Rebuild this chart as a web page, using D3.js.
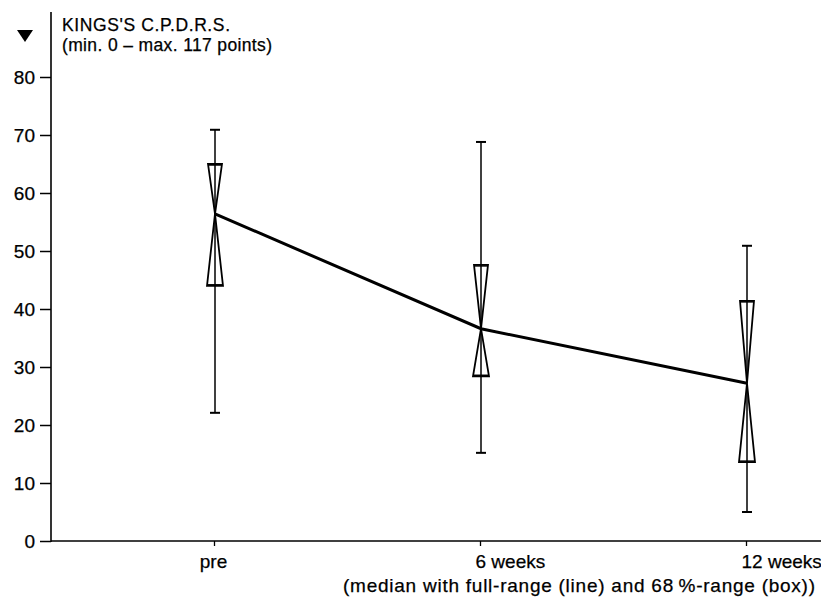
<!DOCTYPE html>
<html><head><meta charset="utf-8">
<script src="https://cdn.jsdelivr.net/npm/d3@7"></script>
<style>
body{margin:0;background:#fff;}
text{font-family:"Liberation Sans",Arial,Helvetica,sans-serif;fill:#000;stroke:#000;stroke-width:0.25px;}
</style></head>
<body><svg id="c" width="821" height="605"></svg>
<script>
const categories = ["pre", "6 weeks", "12 weeks"];
const medians = [56.4, 36.6, 27.2];
const boxLow = [44.0, 28.4, 13.6];
const boxHigh = [65.0, 47.6, 41.4];
const rangeLow = [22.1, 15.2, 5.0];
const rangeHigh = [70.9, 68.8, 50.9];
const yTicks = [0, 10, 20, 30, 40, 50, 60, 70, 80];
const titleLines = ["KINGS'S C.P.D.R.S.", "(min. 0 \u2013 max. 117 points)"];
const caption = "(median with full-range (line) and 68\u2009%-range (box))";

const svg = d3.select("#c");
const y = d3.scaleLinear().domain([0, 80]).range([541, 77]);
const x = d3.scalePoint().domain(categories).range([214, 746]);
const fs = 18.5;

// y axis
const yAxis = svg.append("g").attr("transform", "translate(51,0)")
  .call(d3.axisLeft(y).tickValues(yTicks).tickSize(11).tickPadding(5).tickSizeOuter(0));
yAxis.select(".domain").remove();
yAxis.selectAll("line").attr("stroke", "#000").attr("stroke-width", 1.5);
yAxis.selectAll("text").attr("font-size", 19).attr("dy", "0.36em");
svg.append("line").attr("x1", 51).attr("x2", 51).attr("y1", 12).attr("y2", y(0) + 1)
  .attr("stroke", "#000").attr("stroke-width", 1.6);

// x axis
const xAxis = svg.append("g").attr("transform", `translate(0,${y(0)})`)
  .call(d3.axisBottom(x).tickSize(5).tickPadding(9).tickSizeOuter(0));
xAxis.select(".domain").remove();
xAxis.selectAll("line").attr("stroke", "#000").attr("stroke-width", 1.3);
xAxis.selectAll("text").attr("font-size", 19)
  .attr("text-anchor", (d, i) => i === 0 ? "middle" : "start")
  .attr("dx", (d, i) => i === 0 ? -1 : -5);
svg.append("line").attr("x1", 51).attr("x2", 821).attr("y1", y(0)).attr("y2", y(0))
  .attr("stroke", "#000").attr("stroke-width", 1.6);

// whiskers and hourglass boxes
const g = svg.append("g");
categories.forEach((c, i) => {
  const cx = x(c) + 1;
  g.append("line").attr("x1", cx).attr("x2", cx).attr("y1", y(rangeHigh[i])).attr("y2", y(rangeLow[i]))
    .attr("stroke", "#000").attr("stroke-width", 1.5);
  [rangeHigh[i], rangeLow[i]].forEach(v => {
    g.append("line").attr("x1", cx - 5).attr("x2", cx + 5).attr("y1", y(v)).attr("y2", y(v))
      .attr("stroke", "#000").attr("stroke-width", 2);
  });
  const m = y(medians[i]);
  const top = y(boxHigh[i]), bot = y(boxLow[i]);
  g.append("path")
    .attr("d", `M${cx - 7},${top}L${cx + 7},${top}L${cx},${m}Z`)
    .attr("fill", "none").attr("stroke", "#000").attr("stroke-width", 1.8);
  g.append("path")
    .attr("d", `M${cx - 8},${bot}L${cx + 8},${bot}L${cx},${m}Z`)
    .attr("fill", "none").attr("stroke", "#000").attr("stroke-width", 1.8);
  g.append("line").attr("x1", cx - 7).attr("x2", cx + 7).attr("y1", top + 1).attr("y2", top + 1)
    .attr("stroke", "#000").attr("stroke-width", 1.5);
  g.append("line").attr("x1", cx - 8).attr("x2", cx + 8).attr("y1", bot - 1).attr("y2", bot - 1)
    .attr("stroke", "#000").attr("stroke-width", 1.5);
});

// median line
const line = d3.line().x((d, i) => x(categories[i]) + 1).y(d => y(d));
svg.append("path").datum(medians).attr("d", line)
  .attr("fill", "none").attr("stroke", "#000").attr("stroke-width", 3);

// title & marker
svg.append("path").attr("d", "M17,30L33,30L25,42Z").attr("fill", "#000");
svg.append("text").attr("x", 62).attr("y", 31).attr("font-size", 17.5)
  .attr("textLength", 168).attr("lengthAdjust", "spacing").text(titleLines[0]);
svg.append("text").attr("x", 62).attr("y", 50.5).attr("font-size", 17.5)
  .attr("textLength", 210).attr("lengthAdjust", "spacing").text(titleLines[1]);

// caption
svg.append("text").attr("x", 343).attr("y", 592).attr("font-size", 19)
  .attr("textLength", 472).attr("lengthAdjust", "spacing").text(caption);
</script></body></html>
